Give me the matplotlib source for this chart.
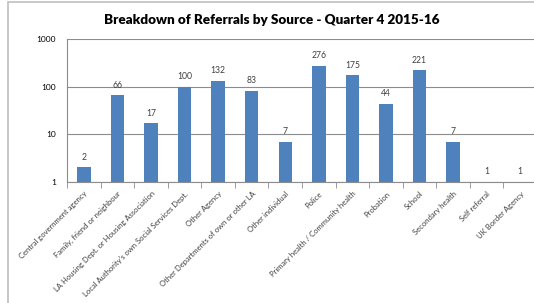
import numpy as np
import matplotlib
matplotlib.use('Agg')
import matplotlib.pyplot as plt
from matplotlib.patches import Rectangle

plt.rcParams['font.family'] = ['Lato', 'DejaVu Sans']

sources = ['Central government agency', 'Family, friend or neighbour',
           'LA Housing Dept. or Housing Association',
           "Local Authority's own Social Services Dept.", 'Other Agency',
           'Other Departments of own or other LA', 'Other individual', 'Police',
           'Primary health / Community health', 'Probation', 'School',
           'Secondary health', 'Self referral', 'UK Border Agency']
referrals = [2, 66, 17, 100, 132, 83, 7, 276, 175, 44, 221, 7, 1, 1]

fig = plt.figure(figsize=(5.34, 3.03), dpi=100)
fig.patches.append(Rectangle((8 / 534, -0.1), 1.2, 1.1 - 2 / 303, transform=fig.transFigure,
                             fill=False, edgecolor='#bfbfbf', linewidth=1.2))
ax = fig.add_axes([67 / 534, 0.4, 470 / 534, 0.871 - 0.4])

x = np.arange(len(sources))
ax.bar(x, referrals, width=0.4, color='#4f81bd', zorder=3)
ax.set_yscale('log')
ax.set_ylim(1, 1000)
ax.set_xlim(-0.5, len(sources) - 0.5)

for xi, v in zip(x, referrals):
    ax.annotate(str(v), (xi, v), xytext=(0, 4), textcoords='offset points',
                ha='center', va='bottom', fontsize=6.2, color='#404040')

ax.set_yticks([1, 10, 100, 1000])
ax.set_yticklabels(['1', '10', '100', '1000'], fontsize=6)
ax.yaxis.set_minor_locator(matplotlib.ticker.NullLocator())
ax.tick_params(axis='y', length=0, pad=8)
ax.grid(axis='y', color='#8c8c8c', linewidth=0.8, zorder=0)

ax.set_xticks(x)
ax.set_xticklabels(sources, rotation=45, ha='right', rotation_mode='anchor', fontsize=5.5, color='#404040')
ax.tick_params(axis='x', length=0, pad=6)
ax.set_xticks(np.arange(len(sources) + 1) - 0.5, minor=True)
ax.tick_params(axis='x', which='minor', length=4, color='#8c8c8c')

for s in ['top', 'right']:
    ax.spines[s].set_visible(False)
for s in ['left', 'bottom']:
    ax.spines[s].set_color('#8c8c8c')

fig.text(272 / 534, 1 - 20 / 303, 'Breakdown of Referrals by Source - Quarter 4 2015-16',
         ha='center', va='center', fontsize=9.7, fontweight='heavy')

fig.savefig('out.png', dpi=100)
